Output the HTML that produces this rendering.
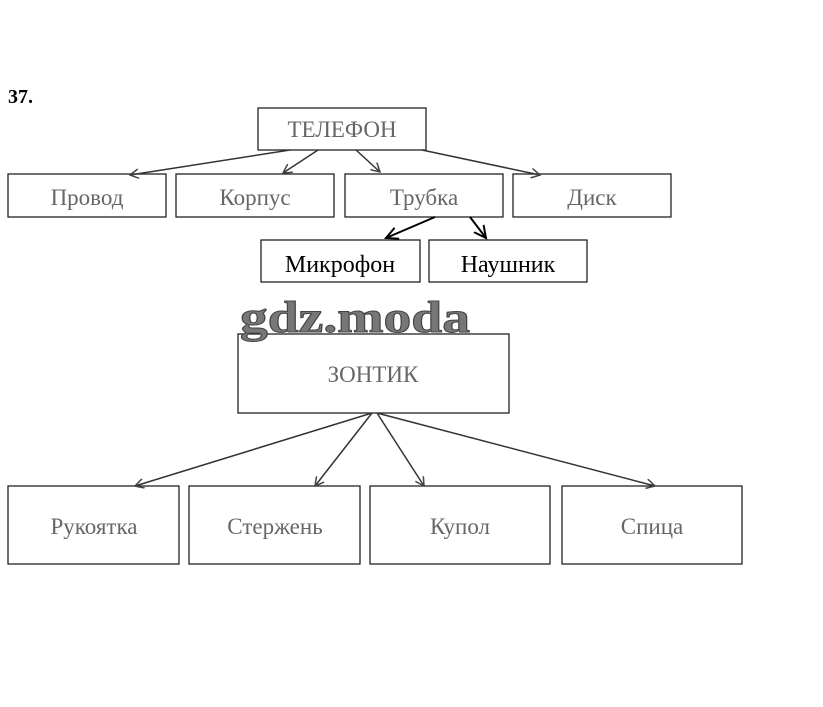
<!DOCTYPE html>
<html><head><meta charset="utf-8"><style>
body{margin:0;background:#fff;}
svg text{font-family:"Liberation Serif",serif;}
</style></head><body>
<svg width="823" height="702" viewBox="0 0 823 702" xmlns="http://www.w3.org/2000/svg">
<defs>
<marker id="a" markerWidth="10" markerHeight="10" refX="9" refY="5" orient="auto" markerUnits="userSpaceOnUse"><path d="M0,0 L9,5 L0,10" fill="none" stroke="#444" stroke-width="1.5"/></marker>
<marker id="b" markerWidth="14" markerHeight="14" refX="12" refY="7" orient="auto" markerUnits="userSpaceOnUse"><path d="M0,1 L12,7 L0,13" fill="none" stroke="#000" stroke-width="2"/></marker>
</defs>
<text x="8" y="103" font-size="20" font-weight="bold">37.</text>
<g fill="none" stroke="#222" stroke-width="1.3">
<rect x="258" y="108" width="168" height="42"/>
<rect x="8" y="174" width="158" height="43"/>
<rect x="176" y="174" width="158" height="43"/>
<rect x="345" y="174" width="158" height="43"/>
<rect x="513" y="174" width="158" height="43"/>
<rect x="261" y="240" width="159" height="42"/>
<rect x="429" y="240" width="158" height="42"/>
<rect x="238" y="334" width="271" height="79"/>
<rect x="8" y="486" width="171" height="78"/>
<rect x="189" y="486" width="171" height="78"/>
<rect x="370" y="486" width="180" height="78"/>
<rect x="562" y="486" width="180" height="78"/>
</g>
<g stroke="#333" stroke-width="1.5" marker-end="url(#a)">
<line x1="290" y1="150" x2="130" y2="175"/>
<line x1="318" y1="150" x2="283" y2="173"/>
<line x1="356" y1="150" x2="380" y2="172"/>
<line x1="422" y1="150" x2="540" y2="175"/>
<line x1="372" y1="413" x2="135" y2="486"/>
<line x1="372" y1="413" x2="315" y2="486"/>
<line x1="377" y1="413" x2="424" y2="486"/>
<line x1="377" y1="413" x2="655" y2="486"/>
</g>
<g stroke="#000" stroke-width="2" marker-end="url(#b)">
<line x1="435" y1="217" x2="386" y2="238"/>
<line x1="470" y1="217" x2="486" y2="238"/>
</g>
<g font-size="23" text-anchor="middle" fill="#666">
<text x="342" y="137">ТЕЛЕФОН</text>
<text x="87" y="205">Провод</text>
<text x="255" y="205">Корпус</text>
<text x="424" y="205">Трубка</text>
<text x="592" y="205">Диск</text>
<text x="373" y="382">ЗОНТИК</text>
<text x="94" y="534">Рукоятка</text>
<text x="275" y="534">Стержень</text>
<text x="460" y="534">Купол</text>
<text x="652" y="534">Спица</text>
</g>
<g font-size="24" text-anchor="middle" fill="#000">
<text x="340" y="272">Микрофон</text>
<text x="508" y="272">Наушник</text>
</g>
<text x="240" y="332" font-size="44" font-weight="bold" textLength="230" lengthAdjust="spacingAndGlyphs" fill="#777" stroke="#444" stroke-width="1">gdz.moda</text>
</svg>
</body></html>
